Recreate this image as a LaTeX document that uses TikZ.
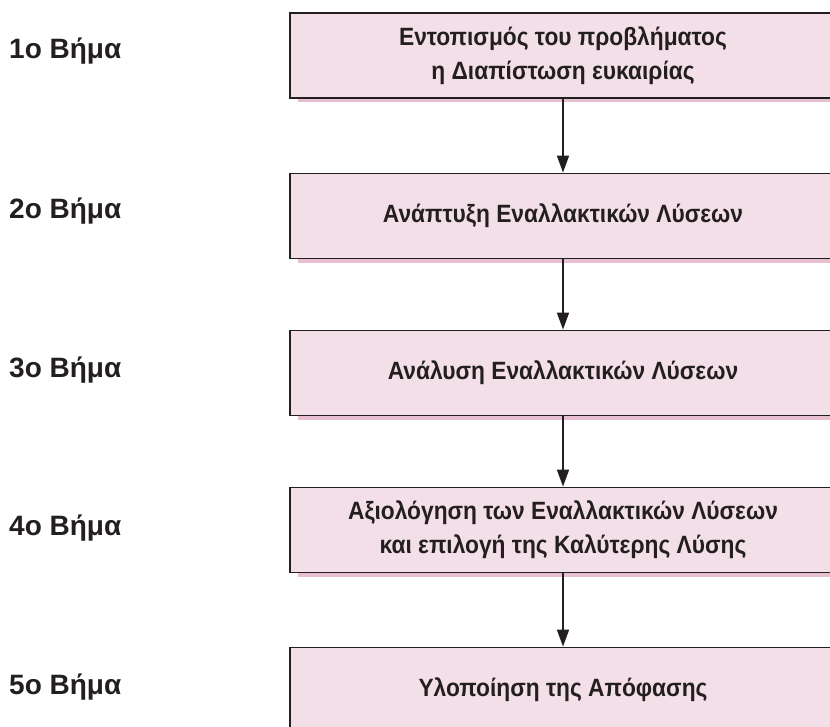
\documentclass[tikz,border=0pt]{standalone}
\usepackage{fontspec}
\setmainfont{Liberation Sans}[BoldFont={Liberation Sans Bold}]
\newfontfamily\boxfont{Liberation Sans Bold}[FakeStretch=0.91]
\newfontfamily\labfont{Liberation Sans Bold}
\usetikzlibrary{arrows.meta}
\definecolor{boxfill}{HTML}{F3DFE8}
\definecolor{boxshadow}{HTML}{E6BFD1}
\definecolor{ink}{HTML}{231F20}
\begin{document}
\begin{tikzpicture}[x=1pt,y=-1pt,
  stepbox/.style={draw=ink, line width=1.8pt, fill=boxfill, minimum width=546pt, minimum height=85pt,
    align=center, inner sep=0pt, font=\boxfont\fontsize{25}{34}\selectfont, text=ink,
    preaction={fill=boxshadow, draw=none, transform canvas={xshift=8pt,yshift=-4.5pt}}},
  steplabel/.style={anchor=base west, inner sep=0pt, font=\labfont\fontsize{28}{32}\selectfont, text=ink},
  flow/.style={draw=ink, line width=1.6pt, -{Triangle[width=12pt,length=17pt]}}]
\useasboundingbox (0,0) rectangle (830,727);
\clip (0,0) rectangle (830,727);
\node[stepbox] (b1) at (563,55.5) {Εντοπισμός του προβλήματος\\η Διαπίστωση ευκαιρίας};
\node[stepbox] (b2) at (563,216) {Ανάπτυξη Εναλλακτικών Λύσεων};
\node[stepbox] (b3) at (563,373) {Ανάλυση Εναλλακτικών Λύσεων};
\node[stepbox] (b4) at (563,530) {Αξιολόγηση των Εναλλακτικών Λύσεων\\και επιλογή της Καλύτερης Λύσης};
\node[stepbox] (b5) at (563,690) {Υλοποίηση της Απόφασης};
\node[steplabel] (l1) at (9,59) {1ο Βήμα};
\node[steplabel] (l2) at (9,219) {2ο Βήμα};
\node[steplabel] (l3) at (9,377) {3ο Βήμα};
\node[steplabel] (l4) at (9,535) {4ο Βήμα};
\node[steplabel] (l5) at (9,694) {5ο Βήμα};
\draw[flow] (b1.south) -- (b2.north);
\draw[flow] (b2.south) -- (b3.north);
\draw[flow] (b3.south) -- (b4.north);
\draw[flow] (b4.south) -- (b5.north);
\end{tikzpicture}
\end{document}
